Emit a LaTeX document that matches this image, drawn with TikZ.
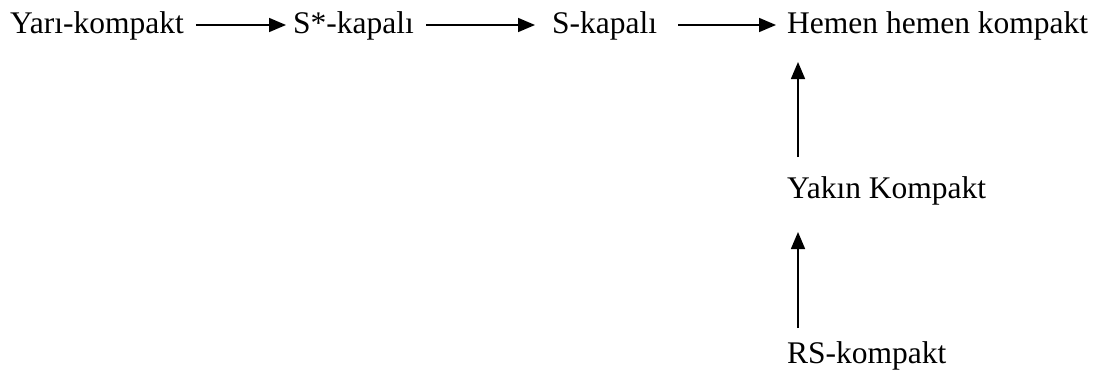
\documentclass[tikz,border=0pt]{standalone}
\usepackage{fontspec}
\setmainfont{Liberation Serif}
\usetikzlibrary{arrows.meta}
\begin{document}
\begin{tikzpicture}[x=1pt,y=-1pt,
  lbl/.style={anchor=base west,inner sep=0pt,font=\fontsize{31.5}{34}\selectfont},
  arr/.style={line width=1.6pt,-{Triangle[length=17pt,width=14pt]}}]
\useasboundingbox (0,0) rectangle (1107,372);
\node[lbl] (yari) at (10,33) {Yarı-kompakt};
\node[lbl] (sstar) at (293,33) {S*-kapalı};
\node[lbl] (skap) at (552,33) {S-kapalı};
\node[lbl] (hemen) at (787,33) {Hemen hemen kompakt};
\node[lbl] (yakin) at (787,198) {Yakın Kompakt};
\node[lbl] (rs) at (787,363) {RS-kompakt};
\draw[arr] ([xshift=12pt,yshift=8pt]yari.base east) -- ([xshift=-7pt,yshift=8pt]sstar.base west);
\draw[arr] ([xshift=12pt,yshift=8pt]sstar.base east) -- ([xshift=-17pt,yshift=8pt]skap.base west);
\draw[arr] ([xshift=21pt,yshift=8pt]skap.base east) -- ([xshift=-11pt,yshift=8pt]hemen.base west);
\draw[arr] ([xshift=11pt,yshift=41pt]yakin.base west) -- ([xshift=11pt,yshift=-29pt]hemen.base west);
\draw[arr] ([xshift=11pt,yshift=35pt]rs.base west) -- ([xshift=11pt,yshift=-34pt]yakin.base west);
\end{tikzpicture}
\end{document}
